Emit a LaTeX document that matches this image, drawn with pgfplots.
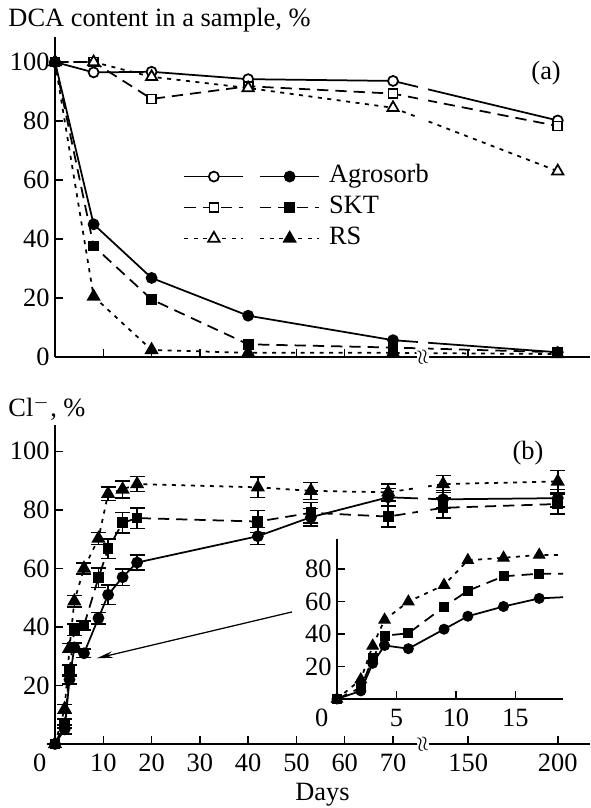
\documentclass[border=0pt]{standalone}
\usepackage{fontspec}
\setmainfont{Liberation Serif}
\usepackage{pgfplots}
\pgfplotsset{compat=1.18}
\usepackage{pgfplotstable}
\usetikzlibrary{arrows.meta}

% panel (b): day, Cl- %, error
\pgfplotstableread{
x y e
0 0 0
2 5 1.5
3 22 1.5
4 33 1.5
6 31 1.5
9 43 2
11 51 3.3
14 57 2.8
17 62 2.6
42 71 2.9
53 77.5 3
69 84.3 3
136 83.6 3
200 84 3
}\clA
\pgfplotstableread{
x y e
0 0 0
2 7 1.5
3 25 2
4 39 2
6 40.5 1.5
9 56.8 3.3
11 66.7 3.3
14 75.6 3.5
17 77.2 3.5
42 76 3.7
53 79 3.5
69 77.7 3.5
136 80.7 3.4
200 82 3.4
}\clS
\pgfplotstableread{
x y e
0 0 0
2 12 1.5
3 32.8 1.5
4 48.8 2
6 60 1.9
9 70.2 2.1
11 85.5 2.3
14 87 2.9
17 88.8 2.6
42 87.7 3.5
53 86.5 2.9
69 86 2.9
136 88.8 2.9
200 89.7 3.8
}\clR

\pgfplotsset{
  lA/.style={black, line width=0.7bp, solid},
  lS/.style={black, line width=0.7bp, dash pattern=on 4.5bp off 2.8bp},
  lR/.style={black, line width=0.7bp, dash pattern=on 1.6bp off 2.2bp},
  mA/.style={mark=*, mark size=2bp},
  mS/.style={mark=square*, mark size=1.8bp},
  mR/.style={mark=triangle*, mark size=2.6bp},
  full/.style={mark options={solid, fill=black}},
  open/.style={mark options={solid, fill=white}},
  eb/.style={error bars/.cd, y dir=both, y explicit,
    error bar style={line width=0.6bp, solid},
    error mark options={rotate=90, mark size=3bp, line width=0.6bp, solid}},
  base/.style={
    scale only axis, anchor=south west,
    axis lines=left, axis line style={-, line width=0.6bp},
    tick align=inside, major tick length=3.2bp,
    tick style={line width=0.6bp, black},
    /pgf/number format/assume math mode=true,
    yticklabel style={inner xsep=2bp},
    xticklabel style={inner ysep=3.8bp},
  },
  panel/.style={base,
    width=214bp, height=128bp,
    x coord trafo/.code={\pgfmathparse{##1>100 ? 85.56+(##1-150)*0.371 : ##1}},
    xmin=0, xmax=218,
    xtick={0,10,20,30,40,50,60,70,150,200},
    clip=false,
  },
}

\begin{document}
\begin{tikzpicture}[font=\fontsize{10.6}{12.7}\selectfont]
\path (0,0) rectangle (236bp,323.2bp);

% ---------- (a)
\begin{axis}[panel, at={(22bp,180.4bp)},
  ymin=0, ymax=108.5, ytick={0,20,40,60,80,100},
  xticklabels={},
  ylabel={DCA content in a sample, \%},
  every axis y label/.style={at={(rel axis cs:0,1)}, anchor=base west, inner sep=0pt, xshift=-18.8bp, yshift=4bp},
  legend columns=2,
  legend style={draw=none, fill=none, at={(0.2393,0.602)}, anchor=north west,
    inner sep=0pt, row sep=3bp,
    nodes={inner xsep=3bp, inner ysep=0pt, text height=0.72em, text depth=0.22em}},
  legend cell align=left,
  legend image code/.code={\draw[mark repeat=2, mark phase=2, #1]
    plot coordinates {(0bp,0bp) (11.8bp,0bp) (23.6bp,0bp)};},
]
\addplot[lA, mA, open] coordinates {(0,100) (8,96.5) (20,96.7) (40,94.2) (70,93.6) (200,80.2)};
\addlegendentry{\hspace{2.4bp}}
\addplot[lA, mA, full] coordinates {(0,100) (8,45) (20,26.8) (40,14) (70,5.7) (200,1.6)};
\addlegendentry{\kern0.6bp Agrosorb}
\addplot[lS, mS, open] coordinates {(0,100) (8,100) (20,87.5) (40,91.8) (70,89.3) (200,78.3)};
\addlegendentry{\hspace{2.4bp}}
\addplot[lS, mS, full] coordinates {(0,100) (8,37.6) (20,19.5) (40,4.3) (70,3.2) (200,1.6)};
\addlegendentry{\kern0.6bp SKT}
\addplot[lR, mR, open] coordinates {(0,100) (8,100) (20,95) (40,91.2) (70,84.5) (200,63)};
\addlegendentry{\hspace{2.4bp}}
\addplot[lR, mR, full] coordinates {(0,100) (8,20.5) (20,2.4) (40,1.4) (70,1.4) (200,1)};
\addlegendentry{\kern0.6bp RS}
\fill[white] (rel axis cs:0.6785,0.0045) rectangle (rel axis cs:0.697,0.97);
\node[rotate=100, fill=white, inner sep=0.3bp, font=\footnotesize] at (rel axis cs:0.688,0) {$\approx$};
\node at (rel axis cs:0.918,0.8875) {(a)};
\end{axis}

% ---------- (b)
\begin{axis}[panel, at={(22bp,25.6bp)}, height=127.6bp,
  ymin=0, ymax=109, ytick={20,40,60,80,100},
  xticklabels={\makebox[0pt][r]{0\kern3.5bp},10,20,30,40,50,60,70,150,200},
  xlabel={Days},
  every axis x label/.style={at={(rel axis cs:0.5,0)}, anchor=base, inner sep=0pt, yshift=-22.4bp},
  ylabel={Cl$^{-}$, \%},
  every axis y label/.style={at={(rel axis cs:0,1)}, anchor=base west, inner sep=0pt, xshift=-18.8bp, yshift=3.2bp},
]
\addplot[lA, mA, full, eb] table[x=x, y=y, y error=e] {\clA};
\addplot[lS, mS, full, eb] table[x=x, y=y, y error=e] {\clS};
\addplot[lR, mR, full, eb] table[x=x, y=y, y error=e] {\clR};
\fill[white] (rel axis cs:0.6785,0.68) rectangle (rel axis cs:0.697,0.93);
\node[rotate=100, fill=white, inner sep=0.3bp, font=\footnotesize] at (rel axis cs:0.688,0) {$\approx$};
\node at (rel axis cs:0.884,0.912) {(b)};
\draw[line width=0.5bp, -{Stealth[length=6.5bp, width=2.6bp]}]
  (rel axis cs:0.443,0.414) -- (rel axis cs:0.078,0.2687);
\end{axis}

% ---------- inset
\begin{axis}[base, at={(134.8bp,43.6bp)}, width=90.4bp, height=64bp,
  xmin=0, xmax=19, ymin=0, ymax=98.6,
  xtick={0,5,10,15},
  xticklabels={\makebox[0pt][r]{0\kern3.5bp},5,10,15},
  ytick={20,40,60,80},
  clip=true,
]
\addplot[lA, no markers] table[x=x, y=y] {\clA};
\addplot[lS, no markers] table[x=x, y=y] {\clS};
\addplot[lR, no markers] table[x=x, y=y] {\clR};
\addplot[only marks, mA, full, restrict x to domain=-1:18] table[x=x, y=y] {\clA};
\addplot[only marks, mS, full, restrict x to domain=-1:18] table[x=x, y=y] {\clS};
\addplot[only marks, mR, full, restrict x to domain=-1:18] table[x=x, y=y] {\clR};
\end{axis}
\end{tikzpicture}
\end{document}
